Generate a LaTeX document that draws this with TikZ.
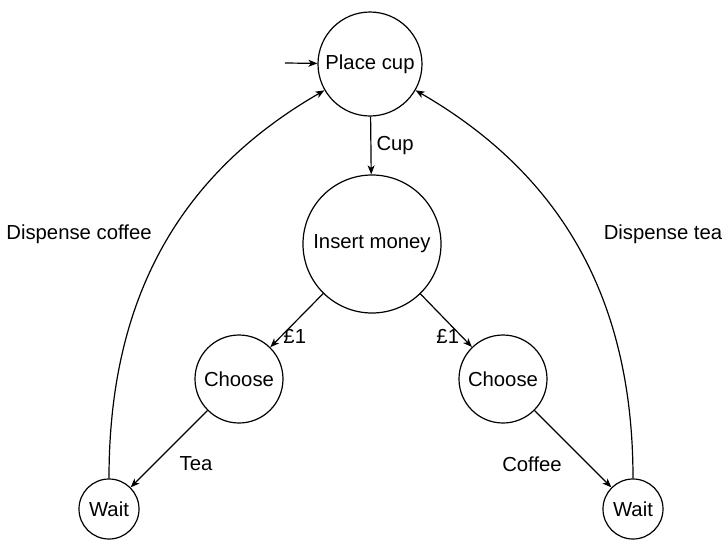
\documentclass[tikz,border=0pt]{standalone}
\usepackage{fontspec}
\setmainfont{Liberation Sans}
\usetikzlibrary{arrows.meta}

\def \bigsize {138pt}
\def \midsize {104pt}
\def \smallsize {88pt}
\def \tinysize {60pt}

\tikzset{
  state/.style={draw, circle, inner sep=0pt},
  lab/.style={inner sep=2pt}
}

\begin{document}
\begin{tikzpicture}[x=1pt, y=-1pt, line width=1.2pt, >={Stealth[length=9pt, width=7pt, inset=2.5pt]}, font=\fontsize{20.3}{24}\selectfont]
\useasboundingbox (0,0) rectangle (724,539);

\node[state, minimum size=\midsize] (place) at (370,64) {Place cup};
\node[state, minimum size=\bigsize] (money) at (372,244) {Insert money};
\node[state, minimum size=\smallsize] (chooseL) at (239,379) {Choose};
\node[state, minimum size=\smallsize] (chooseR) at (503,379) {Choose};
\node[state, minimum size=\tinysize] (waitL) at (109,509) {Wait};
\node[state, minimum size=\tinysize] (waitR) at (633,509) {Wait};
\coordinate (start) at (285,63);

\draw[->] (start) -- (place);
\draw[->] (place) -- node[lab, right=3pt] (cup) {Cup} (money);
\draw[->] (money) -- node[lab, pos=0.8, right] (payL) {\pounds1} (chooseL);
\draw[->] (money) -- node[lab, pos=0.8, left] (payR) {\pounds1} (chooseR);
\draw[->] (chooseL) -- (waitL);
\draw[->] (chooseR) -- (waitR);
\draw[->] (waitL) to[out=90, in=210] (place);
\draw[->] (waitR) to[out=90, in=-30] (place);

\node[lab] (tea) at (196,464) {Tea};
\node[lab] (coffee) at (532,464) {Coffee};
\node[lab] (dispC) at (79,234) {Dispense coffee};
\node[lab] (dispT) at (663,234) {Dispense tea};
\end{tikzpicture}
\end{document}
